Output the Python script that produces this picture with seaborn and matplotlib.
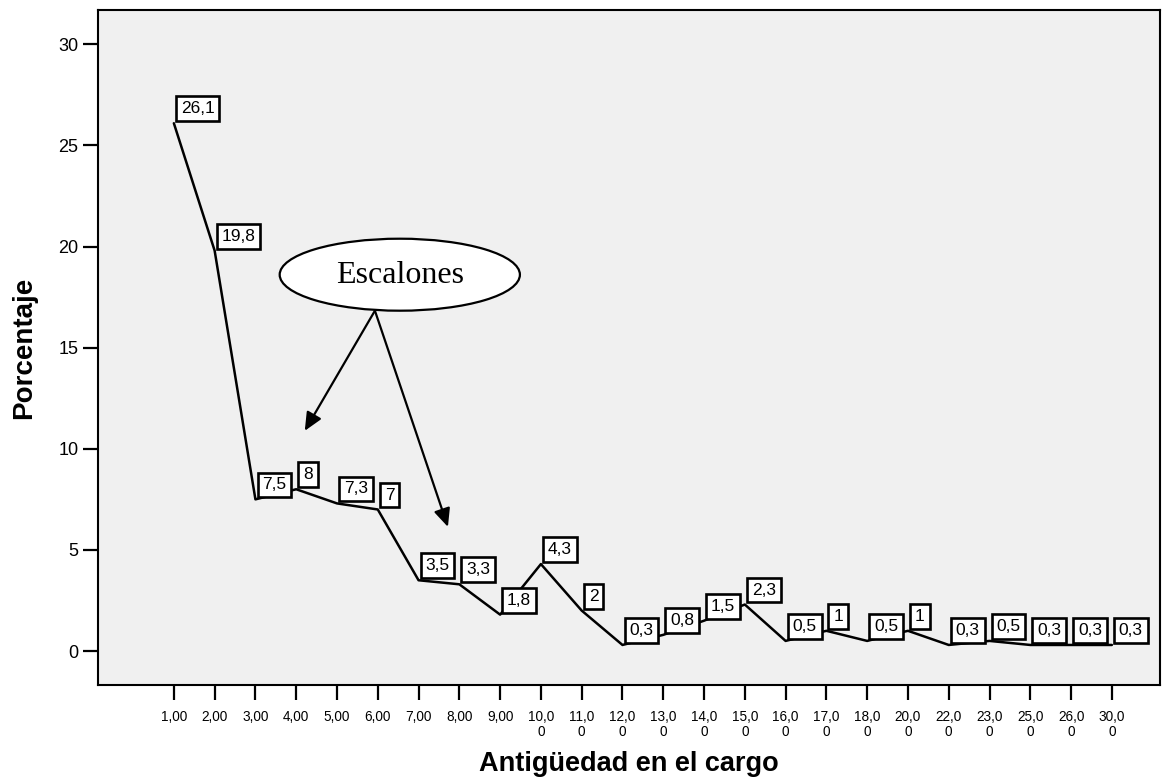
import matplotlib
matplotlib.use("Agg")
import matplotlib.pyplot as plt
import seaborn as sns
import numpy as np
import pandas as pd
from matplotlib.patches import Ellipse

categories = ["1,00", "2,00", "3,00", "4,00", "5,00", "6,00", "7,00", "8,00", "9,00",
              "10,00", "11,00", "12,00", "13,00", "14,00", "15,00", "16,00", "17,00",
              "18,00", "20,00", "22,00", "23,00", "25,00", "26,00", "30,00"]
percent = [26.1, 19.8, 7.5, 8.0, 7.3, 7.0, 3.5, 3.3, 1.8, 4.3, 2.0, 0.3, 0.8, 1.5,
           2.3, 0.5, 1.0, 0.5, 1.0, 0.3, 0.5, 0.3, 0.3, 0.3]
point_labels = ["26,1", "19,8", "7,5", "8", "7,3", "7", "3,5", "3,3", "1,8", "4,3", "2",
                "0,3", "0,8", "1,5", "2,3", "0,5", "1", "0,5", "1", "0,3", "0,5", "0,3",
                "0,3", "0,3"]
y_ticks = [0, 5, 10, 15, 20, 25, 30]

sns.set_style("white")
plt.rcParams['font.family'] = ['Liberation Sans', 'DejaVu Sans']
plt.rcParams.update({"text.color": "black", "axes.labelcolor": "black",
                     "xtick.color": "black", "ytick.color": "black"})

def tick_text(c):
    if len(c) > 4:
        return c[:4] + "\n" + c[4:]
    return c

df = pd.DataFrame({"pos": np.arange(len(categories)), "pct": percent})

fig = plt.figure(figsize=(11.75, 7.82), dpi=100)
ax = fig.add_axes([98/1175, 1-685/782, (1160-98)/1175, (685-10)/782])
ax.set_facecolor("#F0F0F0")

sns.lineplot(data=df, x="pos", y="pct", ax=ax, color="black", linewidth=1.8)

for xp, yp, lab in zip(df["pos"], df["pct"], point_labels):
    ax.annotate(lab, (xp, yp), xytext=(5, 5), textcoords="offset points",
                ha="left", va="bottom", fontsize=12.5, color="black",
                bbox=dict(boxstyle="square,pad=0.28", fc="white", ec="black", lw=1.9))

ax.set_xlim(-1.86, 24.18)
ax.set_ylim(-1.68, 31.7)
ax.set_xticks(df["pos"])
ax.set_xticklabels([tick_text(c) for c in categories], fontsize=9.8, linespacing=1.05)
ax.set_yticks(y_ticks)
ax.set_yticklabels([str(t) for t in y_ticks], fontsize=13)
ax.tick_params(axis="both", direction="out", length=11, width=1.6, color="black",
               labelcolor="black", left=True, bottom=True)
ax.tick_params(axis="x", pad=7)
ax.tick_params(axis="y", pad=3)
for s in ax.spines.values():
    s.set_visible(True)
    s.set_color("black")
    s.set_linewidth(1.5)

ax.set_xlabel("Antigüedad en el cargo", fontsize=19.5, fontweight="bold", labelpad=9,
              color="black")
ax.set_ylabel("Porcentaje", fontsize=20, fontweight="bold", labelpad=15, color="black")

# Annotation ellipse and arrows
ell = Ellipse((5.54, 18.61), width=5.89, height=3.56, fc="white", ec="black", lw=1.6, zorder=5)
ax.add_patch(ell)
ax.text(5.54, 18.55, "Escalones", ha="center", va="center", fontsize=23, color="black",
        family=["Liberation Serif", "DejaVu Serif"], zorder=6)
for end in [(3.21, 10.89), (6.72, 6.14)]:
    ax.annotate("", xy=end, xytext=(4.93, 16.83),
                arrowprops=dict(arrowstyle="-|>,head_length=1.1,head_width=0.5",
                                color="black", lw=1.6, shrinkA=0, shrinkB=0), zorder=6)

fig.savefig("out.png", dpi=100, facecolor="white")
